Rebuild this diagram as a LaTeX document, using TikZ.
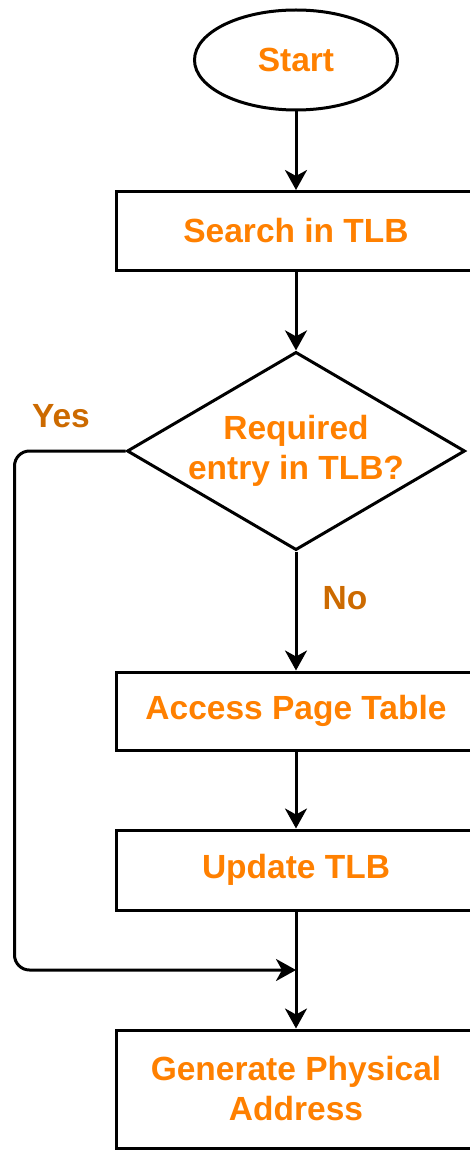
\documentclass[tikz,border=0pt]{standalone}
\usepackage{fontspec}
\setmainfont{Liberation Sans}
\usepackage{tikz}
\usetikzlibrary{arrows.meta,shapes.geometric}
\definecolor{steptext}{HTML}{FF8000}
\definecolor{branchtext}{HTML}{CC6A00}

\begin{document}
\begin{tikzpicture}[x=1pt,y=-1pt]
			\tikzstyle{every node}+=[font=\bfseries\fontsize{33.5}{40}\selectfont, align=center]
			\tikzstyle{stepbox}=[draw, line width=3pt, minimum width=360pt, text=steptext]
			\tikzstyle{flow}=[line width=3pt, -{Stealth[length=20pt,width=22pt,inset=6pt]}]
			\clip (0,0) rectangle (470,1150);
			\node [draw, ellipse, line width=3pt, minimum width=203pt, minimum height=100pt, text=steptext] (start) at (296,60) {Start};
			\node [stepbox, minimum height=79pt] (search) at (296,231) {Search in TLB};
			\node [draw, diamond, line width=3pt, inner sep=0pt, aspect=1.7, minimum width=338pt, minimum height=198pt, text=steptext] (check) at (296,451) {Required\\entry in TLB?};
			\node [stepbox, minimum height=78pt] (access) at (296,711) {Access Page Table};
			\node [stepbox, minimum height=80pt] (update) at (296,870) {Update TLB};
			\node [stepbox, minimum height=118pt] (physical) at (296,1089) {Generate Physical\\Address};
			\node [text=branchtext] (yes) at (61,416) {Yes};
			\node [text=branchtext] (no) at (345,598) {No};
			\coordinate (join) at (296,970);
			\draw [flow] (start) -- (search);
			\draw [flow] (search) -- (check);
			\draw [flow] (check) -- (access);
			\draw [flow] (access) -- (update);
			\draw [flow] (update) -- (physical);
			\draw [flow, rounded corners=15pt] (check.west) -- ++(-111,0) |- (join);
\end{tikzpicture}
\end{document}
